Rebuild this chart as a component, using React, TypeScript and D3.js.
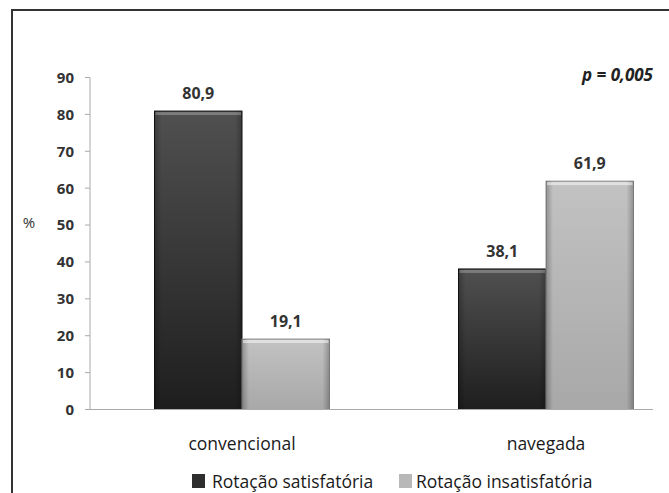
import React from "react";
import * as d3 from "d3";

const categories = ["convencional", "navegada"];
const seriesNames = ["Rotação satisfatória", "Rotação insatisfatória"];
const satisfatoria = [80.9, 38.1];
const insatisfatoria = [19.1, 61.9];
const yTicks = [0, 10, 20, 30, 40, 50, 60, 70, 80, 90];
const pLabel = "p = 0,005";

const W = 669;
const H = 493;
const FONT = "'Open Sans', 'DejaVu Sans', sans-serif";

export default function App() {
  const y = d3.scaleLinear().domain([0, 90]).range([409.5, 77.5]);
  const x0 = d3.scaleBand<string>().domain(categories).range([90, 698]).paddingInner(0).paddingOuter(0);
  const x1 = d3.scaleBand<number>().domain([0, 1]).range([0, 175]);
  const groupOffset = (x0.bandwidth() - 175) / 2;
  const series = [satisfatoria, insatisfatoria];
  const fills = ["url(#gDark)", "url(#gLight)"];
  const strokes = ["#111", "#8a8a8a"];
  const fmt = (v: number) => v.toFixed(1).replace(".", ",");

  return (
    <svg width={W} height={H} style={{ position: "absolute", left: 0, top: 0, background: "#fff" }} fontFamily={FONT}>
      <defs>
        <linearGradient id="gDark" x1="0" y1="0" x2="0" y2="1">
          <stop offset="0" stopColor="#505050" />
          <stop offset="1" stopColor="#1e1e1e" />
        </linearGradient>
        <linearGradient id="gLight" x1="0" y1="0" x2="0" y2="1">
          <stop offset="0" stopColor="#c2c2c2" />
          <stop offset="1" stopColor="#a8a8a8" />
        </linearGradient>
        <linearGradient id="gSide" x1="0" y1="0" x2="1" y2="0">
          <stop offset="0" stopColor="#000" stopOpacity="0.25" />
          <stop offset="0.08" stopColor="#000" stopOpacity="0" />
          <stop offset="0.92" stopColor="#000" stopOpacity="0" />
          <stop offset="1" stopColor="#000" stopOpacity="0.25" />
        </linearGradient>
      </defs>
      <rect x={12} y={10} width={700} height={600} fill="none" stroke="#333" strokeWidth={2} />

      {/* y axis */}
      <line x1={90} x2={90} y1={y(90)} y2={y(0)} stroke="#aaa" />
      {yTicks.map((t) => (
        <g key={t}>
          <line x1={85} x2={90} y1={y(t)} y2={y(t)} stroke="#aaa" />
          <text x={74} y={y(t)} dy="0.36em" textAnchor="end" fontSize={15} fontWeight="bold" fill="#333">
            {t}
          </text>
        </g>
      ))}
      <text x={29} y={y(50) - 2} dy="0.36em" textAnchor="middle" fontSize={15} fill="#333">%</text>

      {/* bars */}
      {categories.map((c, ci) => (
        <g key={c} transform={`translate(${(x0(c) as number) + groupOffset},0)`}>
          {series.map((s, si) => {
            const bx = x1(si) as number;
            const bw = x1.bandwidth();
            const top = y(s[ci]);
            const h = y(0) - top;
            return (
              <g key={si}>
                <rect x={bx} y={top} width={bw} height={h} fill={fills[si]} stroke={strokes[si]} strokeWidth={1} />
                <rect x={bx} y={top} width={bw} height={h} fill="url(#gSide)" />
                <rect x={bx + 1} y={top + 1} width={bw - 2} height={3} fill="#fff" opacity={si === 0 ? 0.25 : 0.5} />
                <text x={bx + bw / 2} y={top - 12} textAnchor="middle" fontSize={16} fontWeight="bold" fill="#333">
                  {fmt(s[ci])}
                </text>
              </g>
            );
          })}
          <text x={87.5} y={450} textAnchor="middle" fontSize={17.5} fill="#1a1a1a">
            {c}
          </text>
        </g>
      ))}

      {/* x axis */}
      <line x1={85} x2={653} y1={y(0)} y2={y(0)} stroke="#aaa" />

      <text x={653} y={81} textAnchor="end" fontSize={17} fontWeight="bold" fontStyle="italic" fill="#222">
        {pLabel}
      </text>

      {/* legend */}
      {seriesNames.map((n, i) => {
        const lx = i === 0 ? 192 : 399;
        return (
          <g key={n}>
            <rect x={lx} y={474} width={13} height={14} fill={i === 0 ? "#2e2e2e" : "#b8b8b8"} />
            <text x={lx + (i === 0 ? 20 : 17)} y={488} fontSize={17.5} fill="#1a1a1a">
              {n}
            </text>
          </g>
        );
      })}
    </svg>
  );
}
